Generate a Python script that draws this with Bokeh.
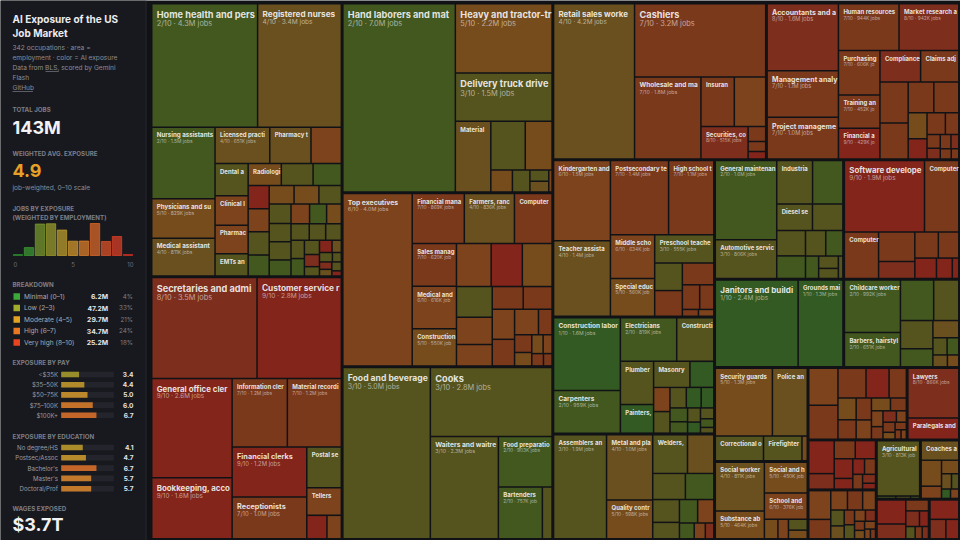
from bokeh.plotting import figure
from bokeh.models import Range1d, ColumnDataSource
from bokeh.embed import file_html
from bokeh.resources import INLINE
from bokeh.core.properties import value

# ------------------------------------------------------------------ data
hist_score = [0, 1, 2, 3, 4, 5, 6, 7, 8, 9, 10]
hist_jobs_m = [0.3, 5.9, 23.5, 23.7, 19.0, 10.7, 10.8, 23.9, 10.5, 14.2, 0.5]

breakdown_labels = ["Minimal (0–1)", "Low (2–3)", "Moderate (4–5)", "High (6–7)", "Very high (8–10)"]
breakdown_jobs_m = [6.2, 47.2, 29.7, 34.7, 25.2]
breakdown_pct = [4, 33, 21, 24, 18]

pay_labels = ["<$35K", "$35–50K", "$50–75K", "$75–100K", "$100K+"]
pay_exposure = [3.4, 4.4, 5.0, 6.0, 6.7]

edu_labels = ["No degree/HS", "Postsec/Assoc", "Bachelor's", "Master's", "Doctoral/Prof"]
edu_exposure = [4.1, 4.7, 6.7, 5.7, 5.7]

total_jobs = "143M"
avg_exposure = "4.9"
wages_exposed = "$3.7T"

healthcare_names = ["Home health and personal care aides", "Registered nurses", "Nursing assistants",
                    "Physicians and surgeons", "Medical assistants",
                    "Licensed practical and licensed vocational nurses", "Pharmacy technicians", "",
                    "Dental assistants", "Clinical laboratory technologists and technicians", "Pharmacists",
                    "EMTs and paramedics", "Radiologic technologists and technicians"]
healthcare_jobs = [4.34, 3.44, 1.5, 0.829, 0.811, 0.651, 0.49, 0.37, 0.35, 0.32,
                   0.31, 0.25, 0.24, 0.23, 0.21, 0.16, 0.16, 0.16, 0.15, 0.15,
                   0.15, 0.14, 0.14, 0.13, 0.13, 0.12, 0.12, 0.11, 0.10, 0.10,
                   0.09, 0.09, 0.08, 0.08, 0.07, 0.06, 0.05, 0.05, 0.04, 0.04,
                   0.03, 0.03, 0.03, 0.03, 0.02]
healthcare_score = [2, 4, 2, 5, 4, 4, 4, 6, 3, 6,
                    6, 3, 5, 3, 2, 9, 6, 3, 2, 5,
                    5, 3, 3, 3, 3, 2, 6, 2, 5, 3,
                    3, 3, 3, 2, 3, 8, 3, 9, 4, 3,
                    3, 8, 4, 3, 9]

office_names = ["Secretaries and administrative assistants", "Customer service representatives",
                "General office clerks", "Bookkeeping, accounting, and auditing clerks", "Information clerks",
                "Material recording clerks", "Financial clerks", "Receptionists", "Postal service workers",
                "Tellers"]
office_jobs = [3.54, 2.84, 2.64, 1.64, 1.24, 1.23, 1.22, 1.04, 0.47, 0.32, 0.16, 0.12]
office_score = [8, 9, 9, 9, 7, 7, 9, 7, 3, 6, 9, 6]

transport_names = ["Hand laborers and material movers", "Heavy and tractor-trailer truck drivers",
                   "Delivery truck drivers and driver/sales workers", "Material moving machine operators"]
transport_jobs = [7.04, 2.24, 1.54, 0.83, 0.55, 0.44, 0.16, 0.13, 0.07, 0.07, 0.03]
transport_score = [2, 5, 3, 4, 3, 5, 5, 3, 3, 4, 6]

management_names = ["Top executives", "Financial managers", "Farmers, ranchers, and other agricultural managers",
                    "Computer and information systems managers", "Sales managers",
                    "Medical and health services managers", "Construction managers"]
management_jobs = [4.0, 0.869, 0.836, 0.64, 0.62, 0.616, 0.55, 0.49, 0.44, 0.43,
                   0.36, 0.32, 0.26, 0.23, 0.22, 0.22, 0.20, 0.20, 0.12, 0.10,
                   0.08, 0.07, 0.06, 0.05, 0.04]
management_score = [6, 7, 4, 7, 7, 6, 5, 6, 9, 5,
                    3, 6, 6, 7, 7, 6, 7, 6, 7, 7,
                    5, 5, 6, 7, 7]

food_names = ["Food and beverage serving workers", "Cooks", "Waiters and waitresses",
              "Food preparation workers", "Bartenders"]
food_jobs = [5.0, 2.8, 2.3, 0.903, 0.757, 0.18]
food_score = [3, 3, 3, 2, 2, 3]

sales_names = ["Retail sales workers", "Cashiers", "Wholesale and manufacturing sales representatives",
               "Insurance sales agents", "", "Securities, commodities, and financial services sales agents"]
sales_jobs = [4.2, 3.2, 1.8, 0.54, 0.52, 0.515, 0.09, 0.06, 0.05]
sales_score = [4, 7, 7, 7, 6, 8, 7, 7, 9]

business_names = ["Accountants and auditors", "Management analysts", "Project management specialists",
                  "Human resources specialists", "Market research analysts and marketing specialists",
                  "Purchasing agents and buyers", "Training and development specialists",
                  "Financial and investment analysts", "Compliance officers",
                  "Claims adjusters, appraisers, examiners, and investigators"]
business_jobs = [1.6, 1.1, 1.0, 0.944, 0.942, 0.606, 0.452, 0.429, 0.418, 0.40,
                 0.38, 0.34, 0.26, 0.26, 0.16, 0.13, 0.13, 0.10, 0.06, 0.05,
                 0.05, 0.04, 0.04, 0.03]
business_score = [8, 7, 7, 7, 8, 7, 7, 9, 8, 7,
                  7, 7, 7, 7, 5, 9, 7, 7, 7, 8,
                  7, 8, 7, 7]

education_names = ["Kindergarten and elementary school teachers", "Teacher assistants", "Postsecondary teachers",
                   "High school teachers", "Middle school teachers", "Special education teachers",
                   "Preschool teachers"]
education_jobs = [1.53, 1.44, 1.43, 1.13, 0.634, 0.56, 0.555, 0.25, 0.24, 0.23, 0.14, 0.12, 0.04, 0.04]
education_score = [6, 4, 7, 7, 6, 5, 3, 3, 7, 7, 7, 7, 7, 6]

construction_names = ["Construction laborers and helpers", "Carpenters", "Electricians",
                      "Construction equipment operators", "Plumbers, pipefitters, and steamfitters",
                      "Painters, construction and maintenance", "Masonry workers"]
construction_jobs = [1.63, 0.959, 0.819, 0.55, 0.47, 0.32, 0.31, 0.21, 0.13, 0.12,
                     0.11, 0.10, 0.09, 0.08, 0.07, 0.06, 0.05, 0.05, 0.04, 0.03]
construction_score = [1, 2, 2, 3, 3, 1, 3, 1, 6, 3,
                      3, 1, 1, 2, 2, 3, 1, 3, 2, 3]

production_names = ["Assemblers and fabricators", "Metal and plastic machine workers",
                    "Quality control inspectors", "Welders, cutters, solderers, and brazers"]
production_jobs = [1.86, 1.0, 0.598, 0.45, 0.35, 0.28, 0.25, 0.20, 0.15, 0.14, 0.13, 0.08, 0.06, 0.05]
production_score = [3, 4, 5, 3, 4, 3, 2, 3, 3, 2, 6, 2, 6, 8]

installation_names = ["General maintenance and repair workers", "Automotive service technicians and mechanics",
                      "Industrial machinery mechanics", "", "Diesel service technicians and mechanics"]
installation_jobs = [1.63, 0.806, 0.52, 0.45, 0.31, 0.27, 0.24, 0.22, 0.17, 0.15, 0.10, 0.08, 0.07, 0.04]
installation_score = [2, 3, 3, 2, 3, 3, 3, 2, 3, 2, 2, 3, 3, 3]

computer_names = ["Software developers", "Computer user support specialists", "Computer systems analysts"]
computer_jobs = [1.92, 0.83, 0.54, 0.35, 0.21, 0.20, 0.18, 0.15, 0.11, 0.05]
computer_score = [9, 7, 7, 7, 8, 7, 7, 9, 9, 9]

building_names = ["Janitors and building cleaners", "Grounds maintenance workers"]
building_jobs = [2.42, 1.32]
building_score = [1, 1]

personal_names = ["Childcare workers", "Barbers, hairstylists, and cosmetologists"]
personal_jobs = [0.992, 0.651, 0.45, 0.35, 0.30, 0.20, 0.15, 0.08, 0.07, 0.06, 0.05]
personal_score = [2, 2, 2, 3, 3, 2, 4, 3, 2, 4, 5]

protective_names = ["Security guards and gambling surveillance officers", "Police and detectives",
                    "Correctional officers and bailiffs", "Firefighters"]
protective_jobs = [1.3, 0.80, 0.407, 0.32, 0.05]
protective_score = [5, 4, 3, 3, 5]

community_names = ["Social workers", "Substance abuse, behavioral disorder, and mental health counselors",
                   "Social and human service assistants", "School and career counselors and advisors"]
community_jobs = [0.811, 0.464, 0.45, 0.376, 0.09, 0.07, 0.07, 0.06]
community_score = [4, 5, 5, 6, 5, 6, 3, 5]

engineering_names = ["", "", "Mechanical engineers"]
engineering_jobs = [0.37, 0.34, 0.28, 0.23, 0.18, 0.13, 0.12, 0.11, 0.10, 0.08,
                    0.07, 0.06, 0.05, 0.05, 0.04, 0.04, 0.03, 0.03, 0.02, 0.02]
engineering_score = [6, 7, 7, 9, 7, 5, 7, 7, 6, 5,
                     7, 6, 7, 8, 6, 7, 5, 7, 7, 6]

legal_names = ["Lawyers", "Paralegals and legal assistants"]
legal_jobs = [0.866, 0.376]
legal_score = [8, 9]

science_names = []
science_jobs = [0.29, 0.14, 0.13, 0.13, 0.12, 0.07, 0.06, 0.06, 0.05, 0.04, 0.03]
science_score = [9, 8, 7, 9, 9, 9, 9, 7, 7, 8, 9]

arts_names = []
arts_jobs = [0.22, 0.15, 0.11, 0.10, 0.09, 0.07, 0.06, 0.05, 0.05, 0.04, 0.04, 0.03, 0.03, 0.03, 0.02, 0.02]
arts_score = [6, 7, 6, 7, 6, 3, 4, 7, 3, 6, 8, 7, 5, 6, 6, 7]

farming_names = ["Agricultural workers"]
farming_jobs = [0.813, 0.02, 0.015, 0.01]
farming_score = [3, 2, 3, 2]

sports_names = ["Coaches and scouts"]
sports_jobs = [0.26, 0.18, 0.09, 0.08, 0.05, 0.04, 0.03, 0.03]
sports_score = [4, 5, 6, 5, 4, 3, 1, 6]

media_names = []
media_jobs = [0.24, 0.15, 0.09, 0.07, 0.05, 0.04, 0.03, 0.03]
media_score = [9, 8, 7, 8, 9, 3, 7, 8]

math_names = []
math_jobs = [0.20, 0.11, 0.09]
math_score = [9, 8, 9]

SECTORS = [
    (healthcare_names, healthcare_jobs, healthcare_score),
    (office_names, office_jobs, office_score),
    (transport_names, transport_jobs, transport_score),
    (management_names, management_jobs, management_score),
    (food_names, food_jobs, food_score),
    (sales_names, sales_jobs, sales_score),
    (business_names, business_jobs, business_score),
    (education_names, education_jobs, education_score),
    (construction_names, construction_jobs, construction_score),
    (production_names, production_jobs, production_score),
    (installation_names, installation_jobs, installation_score),
    (computer_names, computer_jobs, computer_score),
    (building_names, building_jobs, building_score),
    (personal_names, personal_jobs, personal_score),
    (protective_names, protective_jobs, protective_score),
    (community_names, community_jobs, community_score),
    (engineering_names, engineering_jobs, engineering_score),
    (legal_names, legal_jobs, legal_score),
    (science_names, science_jobs, science_score),
    (arts_names, arts_jobs, arts_score),
    (farming_names, farming_jobs, farming_score),
    (sports_names, sports_jobs, sports_score),
    (media_names, media_jobs, media_score),
    (math_names, math_jobs, math_score),
]

# ------------------------------------------------------------------ style
FONT = "Inter"
BG = "#111216"
SIDE_BG = "#18191e"
CELL_COLORS = ["#2c5e22", "#335a22", "#43581f", "#55531e", "#69501e", "#774c1c",
               "#7c431c", "#7b391c", "#7e2e1c", "#83251a", "#861e18"]
BRIGHT = [(46, 139, 46), (61, 154, 53), (122, 154, 44), (160, 160, 44), (192, 160, 44),
          (216, 154, 44), (224, 128, 42), (224, 106, 40), (224, 85, 40), (224, 64, 38), (208, 48, 32)]
BREAK_COLORS = ["#3da83a", "#a2ac2c", "#e3a322", "#ea7822", "#e8441f"]


def bright(v):
    v = max(0.0, min(10.0, v))
    i = min(int(v), 9)
    f = v - i
    a, b = BRIGHT[i], BRIGHT[i + 1]
    return "#%02x%02x%02x" % tuple(int(round(a[k] + (b[k] - a[k]) * f)) for k in range(3))


def text_w(s, size, bold=True):
    w = 0.0
    for ch in s:
        if ch in "il.,:;'|!":
            w += 0.28
        elif ch in "jftr()-/ ·":
            w += 0.36
        elif ch in "mwMW":
            w += 0.85
        elif ch.isupper():
            w += 0.67
        elif ch.isdigit():
            w += 0.57
        else:
            w += 0.56
    return w * size * (1.03 if bold else 1.0)


def fit(s, size, avail, bold=True):
    if text_w(s, size, bold) <= avail:
        return s
    while s and text_w(s, size, bold) > avail:
        s = s[:-1]
    return s.rstrip()


def squarify(values, x0, y0, x1, y1, ratio=1.0):
    """d3.treemapSquarify port: values sorted descending."""
    rects = [None] * len(values)
    n = len(values)
    total = float(sum(values))
    i0 = 0
    while i0 < n:
        dx, dy = x1 - x0, y1 - y0
        i1 = i0
        sumv = values[i1]
        i1 += 1
        minv = maxv = sumv
        alpha = max(dy / dx, dx / dy) / (total * ratio)
        beta = sumv * sumv * alpha
        minr = max(maxv / beta, beta / minv)
        while i1 < n:
            nv = values[i1]
            s2 = sumv + nv
            mn, mx = min(minv, nv), max(maxv, nv)
            beta = s2 * s2 * alpha
            nr = max(mx / beta, beta / mn)
            if nr > minr:
                break
            sumv, minv, maxv, minr = s2, mn, mx, nr
            i1 += 1
        if dx < dy:
            yb = y0 + dy * sumv / total
            xx = x0
            for i in range(i0, i1):
                w = dx * values[i] / sumv
                rects[i] = (xx, y0, xx + w, yb)
                xx += w
            y0 = yb
        else:
            xb = x0 + dx * sumv / total
            yy = y0
            for i in range(i0, i1):
                h = dy * values[i] / sumv
                rects[i] = (x0, yy, xb, yy + h)
                yy += h
            x0 = xb
        total -= sumv
        i0 = i1
    return rects


def fmt_jobs(v):
    return "%.1fM" % v if v >= 1 else "%dK" % round(v * 1000)


# ------------------------------------------------------------------ figure
p = figure(width=960, height=540, x_range=Range1d(0, 960), y_range=Range1d(540, 0),
           output_backend="svg", toolbar_location=None, min_border=0,
           x_axis_location=None, y_axis_location=None)
p.grid.visible = False
p.outline_line_color = None
p.background_fill_color = BG
p.border_fill_color = BG

# sidebar panel
p.quad(left=[0], right=[145], top=[0], bottom=[540], fill_color=SIDE_BG, line_color=None)
p.segment(x0=[145.5], x1=[145.5], y0=[0], y1=[540], line_color="#292a31", line_width=1)


def label(x, y, s, size, color, bold=False, align="left", alpha=1.0):
    p.text(x=[x], y=[y], text=[s], text_font=value(FONT), text_font_size="%.1fpx" % size,
           text_color=color, text_alpha=alpha, text_font_style="bold" if bold else "normal",
           text_align=align, text_baseline="middle")


SX = 12
label(SX, 18, "AI Exposure of the US", 10, "#ececef", bold=True)
label(SX, 32.5, "Job Market", 10, "#ececef", bold=True)
sub = ["342 occupations · area =", "employment · color = AI exposure",
       "Data from BLS, scored by Gemini", "Flash", "GitHub"]
for k, s in enumerate(sub):
    label(SX, 47 + 10 * k, s, 6.6, "#8c8d95")
bx = SX + text_w("Data from ", 6.6, False)
p.segment(x0=[bx, SX], x1=[bx + text_w("BLS", 6.6, False), SX + text_w("GitHub", 6.6, False)],
          y0=[71, 91], y1=[71, 91], line_color="#8c8d95", line_width=0.6)

HEAD = "#7d7e86"
label(SX, 109, "TOTAL JOBS", 6.2, HEAD, bold=True)
label(SX, 126.5, total_jobs, 18, "#f2f2f4", bold=True)
label(SX, 153, "WEIGHTED AVG. EXPOSURE", 6.2, HEAD, bold=True)
label(SX, 170, avg_exposure, 18, "#e6a126", bold=True)
label(SX, 187, "job-weighted, 0–10 scale", 6.6, "#8c8d95")

# histogram
label(SX, 208, "JOBS BY EXPOSURE", 6.2, HEAD, bold=True)
label(SX, 216.5, "(WEIGHTED BY EMPLOYMENT)", 6.2, HEAD, bold=True)
HX0, HX1, HBASE, HPX = 12.0, 133.0, 255.0, 32.0
bw = (HX1 - HX0) / len(hist_score)
hmax = max(hist_jobs_m)
hsrc = ColumnDataSource(dict(
    left=[HX0 + i * bw + 0.8 for i in range(len(hist_score))],
    right=[HX0 + (i + 1) * bw - 0.8 for i in range(len(hist_score))],
    top=[HBASE - max(v / hmax * HPX, 1.0) for v in hist_jobs_m],
    bottom=[HBASE] * len(hist_score),
    color=[bright(s) for s in hist_score]))
p.quad(left="left", right="right", top="top", bottom="bottom", fill_color="color", fill_alpha=0.72,
       line_color="color", line_alpha=0.9, line_width=0.8, source=hsrc)
label(HX0 + 1, 264, "0", 6, "#6e6f77")
label((HX0 + HX1) / 2, 264, "5", 6, "#6e6f77", align="center")
label(HX1, 264, "10", 6, "#6e6f77", align="right")

# breakdown
label(SX, 284, "BREAKDOWN", 6.2, HEAD, bold=True)
by = [296 + 11.5 * k for k in range(len(breakdown_labels))]
p.quad(left=[13] * 5, right=[19.5] * 5, top=[y - 3.3 for y in by], bottom=[y + 3.3 for y in by],
       fill_color=BREAK_COLORS, line_color=None)
for k in range(len(breakdown_labels)):
    label(23.5, by[k], breakdown_labels[k], 6.6, "#a9aab1")
    label(107.5, by[k], "%.1fM" % breakdown_jobs_m[k], 6.8, "#e4e4e8", bold=True, align="right")
    label(132.5, by[k], "%d%%" % breakdown_pct[k], 6.3, "#7d7e86", align="right")


def bar_block(title, ty, labels, vals, ys):
    label(SX, ty, title, 6.2, HEAD, bold=True)
    T0, T1 = 60.7, 113.3
    n = len(vals)
    p.quad(left=[T0] * n, right=[T1] * n, top=[y - 2.8 for y in ys], bottom=[y + 2.8 for y in ys],
           fill_color="#24252c", line_color=None)
    p.quad(left=[T0] * n, right=[T0 + v / 10.0 * (T1 - T0) for v in vals],
           top=[y - 2.8 for y in ys], bottom=[y + 2.8 for y in ys],
           fill_color=[bright(v) for v in vals], fill_alpha=0.85, line_color=None)
    for k in range(n):
        label(57.5, ys[k], labels[k], 6.1, "#9c9da5", align="right")
        label(133, ys[k], "%.1f" % vals[k], 6.5, "#e4e4e8", bold=True, align="right")


bar_block("EXPOSURE BY PAY", 362, pay_labels, pay_exposure, [374 + 10.2 * k for k in range(5)])
bar_block("EXPOSURE BY EDUCATION", 435.5, edu_labels, edu_exposure, [447 + 10.3 * k for k in range(5)])

label(SX, 508, "WAGES EXPOSED", 6.2, HEAD, bold=True)
label(SX, 524, wages_exposed, 18, "#f2f2f4", bold=True)

# ------------------------------------------------------------------ treemap
TX0, TY0, TX1, TY1 = 150.5, 2.5, 959.0, 539.0
GP, LP = 0.75, 0.75
order = sorted(range(len(SECTORS)), key=lambda k: -sum(SECTORS[k][1]))
grects = squarify([sum(SECTORS[k][1]) for k in order], TX0, TY0, TX1, TY1)


def near(a, b):
    return abs(a - b) < 1e-6


cells = dict(left=[], right=[], top=[], bottom=[], color=[])
names = dict(x=[], y=[], text=[], fs=[])
details = dict(x=[], y=[], text=[], fs=[])
for k, (gx0, gy0, gx1, gy1) in zip(order, grects):
    nm, jobs, sc = SECTORS[k]
    idx = sorted(range(len(jobs)), key=lambda i: -jobs[i])
    rects = squarify([jobs[i] for i in idx], gx0, gy0, gx1, gy1)
    for i, (a, b, c, d) in zip(idx, rects):
        l = a + LP + (GP if near(a, gx0) else 0)
        t = b + LP + (GP if near(b, gy0) else 0)
        r = c - LP - (GP if near(c, gx1) else 0)
        bt = d - LP - (GP if near(d, gy1) else 0)
        cells["left"].append(l)
        cells["right"].append(r)
        cells["top"].append(t)
        cells["bottom"].append(bt)
        cells["color"].append(CELL_COLORS[sc[i]])
        w, h = r - l, bt - t
        name = nm[i] if i < len(nm) else ""
        if name and w >= 30 and h >= 16:
            fs = max(6.0, min(9.2, w / 10.0))
            ny = t + 0.35 * fs + 1.4
            names["x"].append(l + 4.2)
            names["y"].append(ny)
            names["text"].append(fit(name, fs, w - 5.0))
            names["fs"].append("%.1fpx" % fs)
            if w >= 40 and h >= 24:
                dfs = fs * 0.8
                det = "%d/10 · %s jobs" % (sc[i], fmt_jobs(jobs[i]))
                details["x"].append(l + 4.2)
                details["y"].append(ny + fs * 1.12)
                details["text"].append(fit(det, dfs, w - 5.0, bold=False))
                details["fs"].append("%.1fpx" % dfs)

p.quad(left="left", right="right", top="top", bottom="bottom", fill_color="color",
       line_color=None, source=ColumnDataSource(cells))
p.text(x="x", y="y", text="text", text_font_size="fs", text_font=value(FONT), text_font_style="bold",
       text_color="#f3f3f3", text_alpha=0.92, text_baseline="top", source=ColumnDataSource(names))
p.text(x="x", y="y", text="text", text_font_size="fs", text_font=value(FONT),
       text_color="#ffffff", text_alpha=0.55, text_baseline="top", source=ColumnDataSource(details))

open("out.html", "w").write(file_html(p, INLINE))
